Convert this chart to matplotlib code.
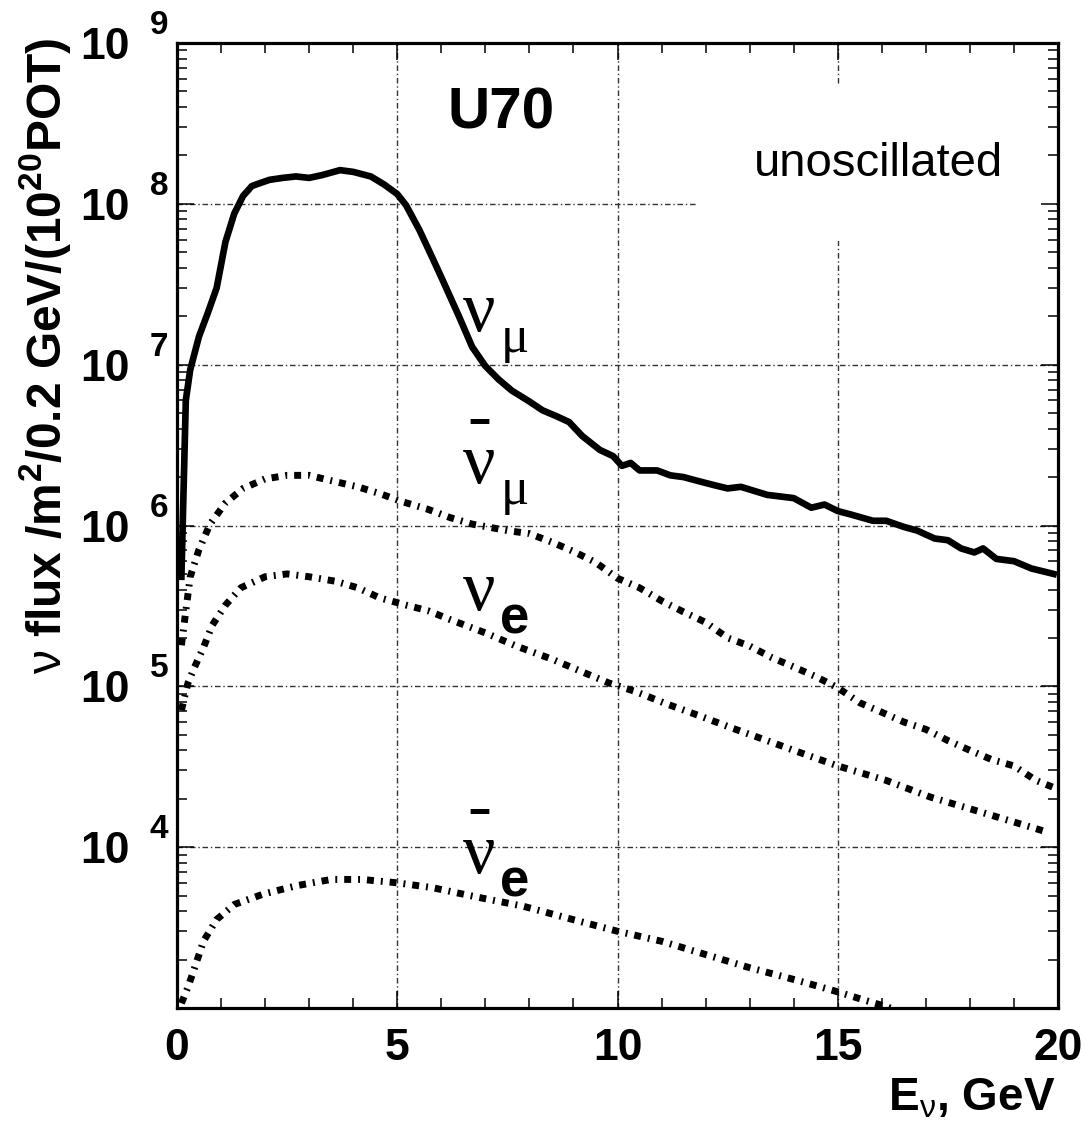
import matplotlib
matplotlib.use("Agg")
import matplotlib.pyplot as plt
from matplotlib.ticker import FixedLocator, LogLocator, NullFormatter
from matplotlib.patches import Rectangle

plt.rcParams["font.family"] = ["Liberation Sans", "DejaVu Sans"]
plt.rcParams["mathtext.fontset"] = "custom"
plt.rcParams["mathtext.rm"] = "Liberation Sans"
plt.rcParams["mathtext.bf"] = "Liberation Sans:bold"
plt.rcParams["mathtext.it"] = "Liberation Sans:italic"
plt.rcParams["lines.scale_dashes"] = False

# ---------------- neutrino flux spectra (per m^2 / 0.2 GeV / 1e20 POT) ----------------
numu_E = [0.1, 0.2, 0.3, 0.5, 0.7, 0.9, 1.1, 1.3, 1.5, 1.7, 1.9, 2.1, 2.4, 2.7, 3.0,
          3.3, 3.7, 4.0, 4.4, 4.7, 5.0, 5.2, 5.5, 5.8, 6.0, 6.4, 6.7, 7.0, 7.3, 7.6,
          8.0, 8.3, 8.6, 8.9, 9.2, 9.6, 9.9, 10.1, 10.3, 10.5, 10.9, 11.2, 11.5, 11.8,
          12.2, 12.5, 12.8, 13.4, 14.0, 14.4, 14.7, 15.0, 15.3, 15.8, 16.1, 16.5, 16.8,
          17.2, 17.5, 17.8, 18.1, 18.3, 18.6, 19.0, 19.4, 19.9]
numu_flux = [4.8e5, 6.0e6, 9.3e6, 1.5e7, 2.1e7, 3.0e7, 5.8e7, 8.7e7, 1.12e8, 1.29e8,
             1.35e8, 1.41e8, 1.45e8, 1.48e8, 1.45e8, 1.51e8, 1.62e8, 1.58e8, 1.48e8,
             1.32e8, 1.15e8, 9.8e7, 6.9e7, 4.6e7, 3.5e7, 2.0e7, 1.29e7, 9.8e6, 8.1e6,
             6.9e6, 5.9e6, 5.2e6, 4.8e6, 4.4e6, 3.6e6, 2.95e6, 2.7e6, 2.35e6, 2.45e6,
             2.2e6, 2.2e6, 2.05e6, 2.0e6, 1.9e6, 1.78e6, 1.7e6, 1.74e6, 1.55e6, 1.48e6,
             1.29e6, 1.35e6, 1.23e6, 1.17e6, 1.07e6, 1.07e6, 9.8e5, 9.3e5, 8.3e5, 8.1e5,
             7.2e5, 6.8e5, 7.2e5, 6.2e5, 6.0e5, 5.4e5, 5.0e5]

anumu_E = [0.1, 0.3, 0.5, 0.75, 1.1, 1.5, 2.0, 2.5, 3.0, 3.5, 4.1, 4.6, 5.1, 5.7, 6.2,
           6.7, 7.5, 8.0, 8.5, 9.0, 9.5, 10.0, 10.5, 11.0, 11.5, 12.0, 12.5, 13.0, 13.5,
           14.0, 14.5, 15.0, 15.5, 16.0, 16.5, 17.0, 17.5, 18.0, 18.5, 19.0, 19.5, 19.9]
anumu_flux = [1.8e5, 4.8e5, 7.1e5, 1.02e6, 1.38e6, 1.7e6, 1.95e6, 2.05e6, 2.05e6, 1.9e6,
              1.74e6, 1.58e6, 1.41e6, 1.26e6, 1.12e6, 1.02e6, 9.3e5, 8.9e5, 7.9e5, 6.9e5,
              5.9e5, 4.7e5, 4.1e5, 3.4e5, 2.9e5, 2.5e5, 2.0e5, 1.78e5, 1.51e5, 1.32e5,
              1.15e5, 9.8e4, 7.9e4, 6.9e4, 6.0e4, 5.4e4, 4.6e4, 4.0e4, 3.5e4, 3.2e4,
              2.6e4, 2.35e4]

nue_E = [0.1, 0.25, 0.4, 0.6, 0.8, 1.1, 1.45, 2.0, 2.5, 3.0, 3.6, 4.1, 4.6, 5.2, 5.7,
         6.2, 7.0, 7.7, 8.5, 9.2, 9.8, 10.4, 11.1, 11.9, 12.6, 13.3, 14.0, 15.0, 16.1,
         17.1, 18.1, 19.2, 19.8]
nue_flux = [7.1e4, 1.05e5, 1.32e5, 1.74e5, 2.4e5, 3.2e5, 4.1e5, 4.8e5, 5.0e5, 4.8e5,
            4.5e5, 4.1e5, 3.55e5, 3.2e5, 2.95e5, 2.6e5, 2.15e5, 1.78e5, 1.48e5, 1.23e5,
            1.05e5, 9.3e4, 7.8e4, 6.5e4, 5.5e4, 4.7e4, 4.0e4, 3.2e4, 2.6e4, 2.05e4,
            1.7e4, 1.38e4, 1.23e4]

anue_E = [0.1, 0.25, 0.4, 0.6, 0.9, 1.3, 1.95, 2.7, 3.5, 4.2, 5.0, 5.8, 6.8, 7.85, 8.9,
          10.0, 11.0, 12.0, 13.0, 14.1, 15.0, 15.6, 16.1, 16.6]
anue_flux = [1.07e3, 1.35e3, 1.78e3, 2.6e3, 3.55e3, 4.4e3, 5.1e3, 5.75e3, 6.3e3, 6.3e3,
             6.0e3, 5.6e3, 4.9e3, 4.3e3, 3.6e3, 3.0e3, 2.6e3, 2.15e3, 1.78e3, 1.48e3,
             1.26e3, 1.12e3, 1.02e3, 9.1e2]

x_major = [0, 5, 10, 15, 20]
y_exponents = [4, 5, 6, 7, 8, 9]

# ---------------- figure ----------------
W, H = 1086, 1125
fig = plt.figure(figsize=(W / 100, H / 100), dpi=100)
ax = fig.add_axes([177 / W, 1 - 1008 / H, (1058 - 177) / W, (1008 - 43) / H])
ax.set_yscale("log")
ax.set_xlim(0, 20)
ax.set_ylim(1e3, 1e9)

# grid at major ticks
grid_kw = dict(color="#333333", lw=1.0, ls=(0, (4, 2, 1, 2)), zorder=0.6)
for xv in x_major[1:-1]:
    ax.axvline(xv, **grid_kw)
for k in y_exponents[:-1]:
    ax.axhline(10.0 ** k, **grid_kw)

# white pad behind the "unoscillated" note
ax.add_patch(Rectangle((11.8, 10 ** 7.77), 8.15, 10 ** 8.745 - 10 ** 7.77,
                       facecolor="white", edgecolor="none", zorder=0.8))

# spectra
dashdot = (0, (5.0, 5.0, 1.4, 5.0))
ax.plot(numu_E, numu_flux, color="black", lw=4.8, solid_joinstyle="round", zorder=3)
for E, F in [(anumu_E, anumu_flux), (nue_E, nue_flux), (anue_E, anue_flux)]:
    ax.plot(E, F, color="black", lw=5.0, ls=dashdot, dash_capstyle="butt", zorder=3)

# axes frame and ticks
for sp in ax.spines.values():
    sp.set_linewidth(2.3)
ax.xaxis.set_major_locator(FixedLocator(x_major))
ax.xaxis.set_minor_locator(FixedLocator(list(range(0, 21))))
ax.yaxis.set_major_locator(LogLocator(base=10, numticks=20))
ax.yaxis.set_minor_locator(LogLocator(base=10, subs=range(2, 10), numticks=50))
ax.yaxis.set_minor_formatter(NullFormatter())
ax.tick_params(which="both", direction="in", top=True, right=True, width=1.1,
               labelbottom=False, labelleft=False)
ax.tick_params(which="major", length=12)
ax.tick_params(which="minor", length=7)

# tick labels in the 10^n style
lab_kw = dict(fontweight="bold", textcoords="offset pixels", annotation_clip=False)
for k in y_exponents:
    ax.annotate("10", xy=(0, 10.0 ** k), xycoords=("axes fraction", "data"),
                xytext=(-47, -16), ha="right", va="baseline", fontsize=32, **lab_kw)
    ax.annotate(str(k), xy=(0, 10.0 ** k), xycoords=("axes fraction", "data"),
                xytext=(-27, 9), ha="left", va="baseline", fontsize=24, **lab_kw)
for v in x_major:
    ax.annotate(str(v), xy=(v, 0), xycoords=("data", "axes fraction"),
                xytext=(0, -52), ha="center", va="baseline", fontsize=32, **lab_kw)

# axis titles
ax.annotate(r"E$_{\mathrm{\nu}}$, GeV", xy=(1, 0), xycoords="axes fraction",
            xytext=(-3, -102), ha="right", va="baseline", fontsize=33, **lab_kw)
fig.text(45 / W, 1 - 38 / H,
         r"$\mathrm{\nu}$ flux /m$^{\mathbf{2}}$/0.2 GeV/(10$^{\mathbf{20}}$POT)",
         rotation=90, ha="center", va="top", fontsize=34.5, fontweight="bold")

# annotations inside the frame
ax.text(6.13, 10 ** 8.466, "U70", fontsize=42, fontweight="bold",
        ha="left", va="baseline", zorder=4)
ax.text(13.10, 10 ** 8.174, "unoscillated", fontsize=34,
        ha="left", va="baseline", zorder=4)

SERIF = ["Liberation Serif", "DejaVu Serif"]


def flavour_label(E, F, sub, bar):
    """nu symbol with subscript (and optional bar) anchored at the nu baseline-left."""
    # the bar, when present, sits on its own line above the nu in the same text block
    sym = "-\n\u03bd" if bar else "\u03bd"
    ax.annotate(sym, xy=(E, F), xytext=(0, 0), textcoords="offset pixels",
                ha="left", va="baseline", multialignment="center",
                linespacing=0.6, fontsize=52, family=SERIF, zorder=4)
    if sub == "mu":
        ax.annotate("\u03bc", xy=(E, F), xytext=(37, -21), textcoords="offset pixels",
                    ha="left", va="baseline", fontsize=38, family=SERIF, zorder=4)
    else:
        ax.annotate("e", xy=(E, F), xytext=(37, -23), textcoords="offset pixels",
                    ha="left", va="baseline", fontsize=38, fontweight="bold", zorder=4)


flavour_label(6.50, 10 ** 7.211, "mu", False)
flavour_label(6.50, 10 ** 6.267, "mu", True)
flavour_label(6.50, 10 ** 5.472, "e", False)
flavour_label(6.50, 10 ** 3.839, "e", True)

fig.savefig("out.png", dpi=100)
